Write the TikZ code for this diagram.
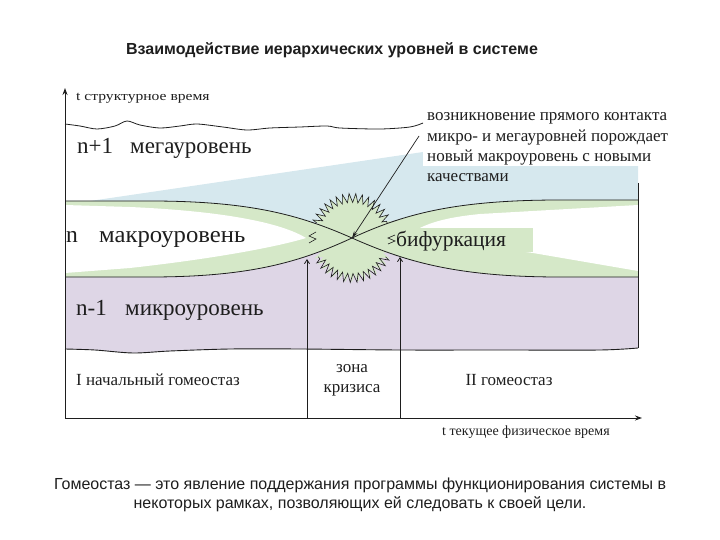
\documentclass[tikz,border=0pt]{standalone}
\usepackage{fontspec}
\usepackage{graphicx}
\setmainfont{Liberation Serif}
\newfontfamily\sansf{Liberation Sans}
\usetikzlibrary{decorations.pathmorphing,arrows.meta}
\definecolor{lvlblue}{RGB}{214,232,238}
\definecolor{lvlgreen}{RGB}{213,232,200}
\definecolor{lvlpurple}{RGB}{222,214,230}
\definecolor{ink}{RGB}{30,30,30}
\tikzset{
  lbl/.style={inner sep=0pt, anchor=base west, text=ink},
  ctr/.style={inner sep=0pt, anchor=base, text=ink},
  curve/.style={draw=ink, line width=0.8pt},
  axisline/.style={draw=ink, line width=0.9pt},
  zz/.style={decorate, decoration={zigzag, segment length=6pt, amplitude=4.5pt}},
}
\newcommand{\fsz}[1]{\fontsize{#1}{#1}\selectfont}
\begin{document}
\begin{tikzpicture}[x=1pt,y=-1pt]
\useasboundingbox (0,0) rectangle (720,540);
% coordinates
\coordinate (O) at (65,418);
\coordinate (Ytop) at (65,88);
\coordinate (Xend) at (642,418);
\coordinate (X) at (352,238);
\coordinate (ptr) at (419,136);
\coordinate (aL) at (307,259);
\coordinate (aR) at (400,257);
\coordinate (bL) at (307,418);
\coordinate (bR) at (400,418);
% blue region
\fill[lvlblue] (65,201) -- (90,201) -- (423,152) -- (638,152) -- (638,240) -- (65,240) -- cycle;
\fill[white] (423,98) rectangle (700,166);
% purple region
\fill[lvlpurple] (65,240) -- (638,240) -- (638,348) -- plot[smooth] coordinates {(638,348) (600,350) (500,350) (400,350) (300,349) (230,349) (170,351) (133,353) (95,350) (65,349)} -- cycle;
% green band
\fill[lvlgreen] (65,201) -- (150,201) .. controls (250,201) and (300,215) .. (352,238) .. controls (404,261) and (455,277) .. (560,277) -- (638,277) -- (638,200) -- (560,200) .. controls (455,200) and (404,214) .. (352,238) .. controls (300,262) and (250,277) .. (150,277) -- (65,277) -- cycle;
% white wedges
\fill[white] (65,205) -- (130,207) .. controls (220,211) and (280,222) .. (306,238) .. controls (280,246) and (220,258) .. (130,268) -- (65,273) -- cycle;
\fill[white] (405,238) .. controls (420,225) and (440,218) .. (480,214) -- (638,205) -- (638,271) -- (533,253) -- (460,243) -- cycle;
% star
\fill[lvlgreen, zz] (X) ellipse [x radius=38, y radius=40];
\draw[ink, line width=0.6pt, zz] (X) ++(202:38 and 40) arc[start angle=202, end angle=338, x radius=38, y radius=40];
\draw[ink, line width=0.6pt, zz] (X) ++(28:38 and 40) arc[start angle=28, end angle=152, x radius=38, y radius=40];
% bifurcation label background
\fill[lvlgreen] (385,228) rectangle (533,252);
% curves
\draw[curve] (65,201) -- (150,201) .. controls (250,201) and (300,215) .. (X) .. controls (404,261) and (455,277) .. (560,277) -- (638,277);
\draw[curve] (65,277) -- (150,277) .. controls (250,277) and (300,262) .. (X) .. controls (404,214) and (455,200) .. (560,200) -- (638,200);
% small zigzag marks
\draw[ink, line width=0.6pt] (316,232) -- (309,236) -- (316,239) -- (309,243);
\draw[ink, line width=0.6pt] (395,235) -- (388,238) -- (395,241) -- (388,244);
% top wavy line
\draw[ink, line width=0.8pt] plot[smooth] coordinates {(65,124) (80,126) (97,129) (115,126) (127,121) (140,125) (160,128) (180,126) (197,124) (223,127) (247,130) (270,128) (300,127) (327,126) (340,128) (380,129) (410,127) (423,123)};
% purple bottom edge
\draw[ink, line width=0.9pt] plot[smooth] coordinates {(65,349) (95,350) (133,353) (170,351) (230,349) (300,349) (400,350) (500,350) (600,350) (638,348)};
% right edge
\draw[ink, line width=0.8pt] (638,183) -- (638,348);
% axes
\draw[axisline, -{Stealth[length=7pt,width=5pt]}] (O) -- (Ytop);
\draw[axisline, -{Stealth[length=7pt,width=5pt]}] (O) -- (Xend);
% vertical arrows
\draw[ink, line width=0.8pt, -{Straight Barb[length=4pt,width=5pt]}] (bL) -- (aL);
\draw[ink, line width=0.8pt, -{Straight Barb[length=4pt,width=5pt]}] (bR) -- (aR);
% pointer
\draw[ink, line width=0.7pt, -{Stealth[length=7pt,width=4pt]}] (ptr) -- (X);
% texts
\node[ctr, font=\sansf\bfseries\fsz{16}] (title) at (332,55) {Взаимодействие иерархических уровней в системе};
\node[lbl, font=\fsz{13}] (ylab) at (76,101) {\scalebox{1.2}[1]{t структурное время}};
\node[lbl, font=\fsz{23}] (n1) at (77,154) {n+1};
\node[lbl, font=\fsz{23}] (mega) at (130,154) {мегауровень};
\node[lbl, font=\fsz{23.5}] (n0) at (66,242) {n};
\node[lbl, font=\fsz{23.5}] (makro) at (99,242) {\scalebox{1.05}[1]{макроуровень}};
\node[lbl, font=\fsz{23}] (nm1) at (76,315) {n-1};
\node[lbl, font=\fsz{23}] (mikro) at (125,315) {микроуровень};
\node[lbl, font=\fsz{17}] (t1) at (427,121) {возникновение прямого контакта};
\node[lbl, font=\fsz{17}] (t2) at (427,142) {микро- и мегауровней порождает};
\node[lbl, font=\fsz{17}] (t3) at (427,162) {новый макроуровень с новыми};
\node[lbl, font=\fsz{17}] (t4) at (427,182) {качествами};
\node[lbl, font=\fsz{21.5}] (bif) at (396,247) {бифуркация};
\node[lbl, font=\fsz{17}] (h1) at (76,385) {I начальный гомеостаз};
\node[ctr, font=\fsz{17}] (z1) at (352,372) {зона};
\node[ctr, font=\fsz{17}] (z2) at (352,392) {кризиса};
\node[ctr, font=\fsz{17}] (h2) at (509,385) {II гомеостаз};
\node[lbl, font=\fsz{14}] (xlab) at (442,435) {t текущее физическое время};
\node[ctr, font=\sansf\fsz{16}] (cap1) at (360,489) {Гомеостаз — это явление поддержания программы функционирования системы в};
\node[ctr, font=\sansf\fsz{16}] (cap2) at (360,508) {некоторых рамках, позволяющих ей следовать к своей цели.};
\end{tikzpicture}
\end{document}
